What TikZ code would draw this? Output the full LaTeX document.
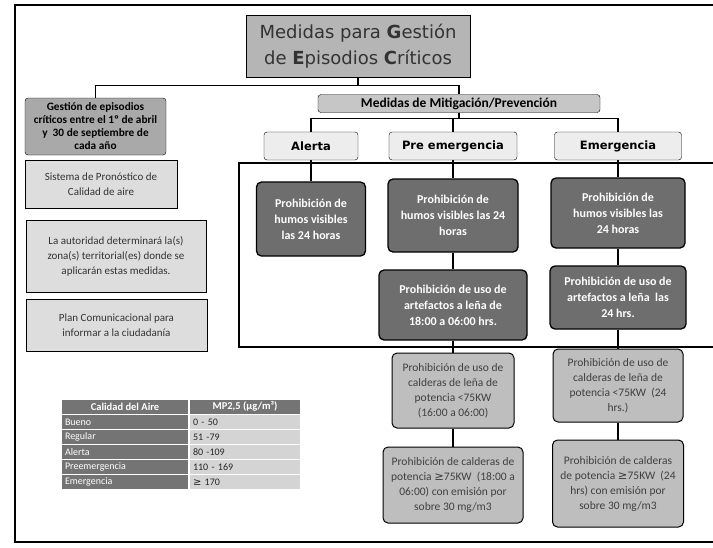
\documentclass[tikz,border=0pt]{standalone}
\usepackage{fontspec}
\setmainfont{Carlito}
\newfontfamily\titlefont{DejaVu Sans}
\newfontfamily\symfont{DejaVu Sans}
\usepackage{tikz}
\usepackage{xcolor}

\definecolor{titleGray}{HTML}{B5B5B5}
\definecolor{gestGray}{HTML}{A9A9A9}
\definecolor{mitigGray}{HTML}{C6C6C6}
\definecolor{levelGray}{HTML}{EDEDED}
\definecolor{prohibDark}{HTML}{6E6E6E}
\definecolor{prohibLight}{HTML}{BEBEBE}
\definecolor{sideGray}{HTML}{DDDDDD}
\definecolor{tabDark}{HTML}{747474}
\definecolor{tabLight}{HTML}{D4D4D4}

\newcommand{\gesym}{{\symfont\char"2265}}

\begin{document}
\begin{tikzpicture}[x=1pt, y=-1pt,
  titlebox/.style={draw, fill=titleGray, minimum width=224, minimum height=62, align=center,
    text=black!80, font=\titlefont\fontsize{18}{26}\selectfont},
  headbox/.style={draw, rounded corners=3, fill=mitigGray, align=center, inner sep=1,
    font=\bfseries\fontsize{13.5}{15}\selectfont},
  levelbox/.style={draw, rounded corners=3, fill=levelGray, minimum height=28,
    font=\titlefont\bfseries\fontsize{11.5}{13}\selectfont},
  darkbox/.style={draw, line width=1.3pt, rounded corners=5, fill=prohibDark, text=white,
    align=center, font=\bfseries\fontsize{12}{16}\selectfont},
  lightbox/.style={draw, line width=1pt, rounded corners=5, fill=prohibLight, text=black!75,
    align=center, inner sep=2, font=\fontsize{11.5}{15}\selectfont},
  sidebox/.style={draw, fill=sideGray, align=center, text=black!80,
    font=\fontsize{11}{15}\selectfont},
  tabhead/.style={fill=tabDark, text=white, minimum height=14, inner sep=0,
    font=\bfseries\fontsize{10.5}{12}\selectfont},
  tabkey/.style={fill=tabDark, text=white, minimum height=14, text width=120, align=left,
    inner xsep=3, inner ysep=0, font=\fontsize{10}{12}\selectfont},
  tabval/.style={fill=tabLight, text=black!85, minimum height=14, text width=104, align=left,
    inner xsep=3, inner ysep=0, font=\fontsize{10}{12}\selectfont},
  link/.style={line width=1.2pt},
  frameline/.style={line width=1.6pt}]
  \useasboundingbox (0,0) rectangle (713,547);
  \fill[white] (0,0) rectangle (713,547);
  % frames
  \draw[frameline] (720,5) -| (15,542) -- (720,542);
  \draw[frameline] (720,163) -| (239,347) -- (720,347);

  % title and first level
  \node[titlebox] (title) at (358,46)
    {Medidas para \textbf{G}estión\\de \textbf{E}pisodios \textbf{C}ríticos};
  \node[headbox, fill=gestGray, minimum width=141, minimum height=57,
    font=\bfseries\fontsize{11.3}{13}\selectfont] (gestion) at (95.5,126.5)
    {Gestión de episodios\\críticos entre el 1º de abril\\y\ \ 30 de septiembre de\\cada año};
  \node[headbox, minimum width=282, minimum height=18] (mitig) at (459,103.5)
    {Medidas de Mitigación/Prevención};

  % levels
  \node[levelbox, minimum width=94] (alerta) at (311,146) {Alerta};
  \node[levelbox, minimum width=128] (preemer) at (453,146) {Pre emergencia};
  \node[levelbox, minimum width=127] (emer) at (618,146) {Emergencia};

  % left column
  \node[sidebox, minimum width=152, minimum height=48] (sistema) at (101,184)
    {Sistema de Pronóstico de\\Calidad de aire};
  \node[sidebox, minimum width=180, minimum height=72] (autoridad) at (116,256)
    {La autoridad determinará la(s)\\zona(s) territorial(es) donde se\\aplicarán estas medidas.};
  \node[sidebox, minimum width=181, minimum height=52] (plan) at (116.5,325)
    {Plan Comunicacional para\\informar a la ciudadanía};

  % prohibitions
  \node[darkbox, minimum width=109, minimum height=74] (alerta1) at (311,219)
    {Prohibición de\\humos visibles\\las 24 horas};
  \node[darkbox, minimum width=130, minimum height=73] (pre1) at (453,215.5)
    {Prohibición de\\humos visibles las 24\\horas};
  \node[darkbox, minimum width=134, minimum height=70] (emer1) at (618,213)
    {Prohibición de\\humos visibles las\\24 horas};
  \node[darkbox, minimum width=148, minimum height=70] (pre2) at (453,305)
    {Prohibición de uso de\\artefactos a leña de\\18:00 a 06:00 hrs.};
  \node[darkbox, minimum width=136, minimum height=63] (emer2) at (618,297.5)
    {Prohibición de uso de\\artefactos a leña\ \ las\\24 hrs.};
  \node[lightbox, minimum width=122, minimum height=75] (pre3) at (453,390.5)
    {Prohibición de uso de\\calderas de leña de\\potencia <75KW\\(16:00 a 06:00)};
  \node[lightbox, minimum width=130, minimum height=73] (emer3) at (618,385.5)
    {Prohibición de uso de\\calderas de leña de\\potencia <75KW\ \ (24\\hrs.)};
  \node[lightbox, minimum width=140, minimum height=76] (pre4) at (453,485)
    {Prohibición de calderas de\\potencia \gesym75KW\ \ (18:00 a\\06:00) con emisión por\\sobre 30 mg/m3};
  \node[lightbox, minimum width=131, minimum height=87] (emer4) at (618,483.5)
    {Prohibición de calderas\\de potencia \gesym75KW\ \ (24\\hrs) con emisión por\\sobre 30 mg/m3};

  % connectors
  \draw[link] (title.south) -- ++(0,8) -| (gestion.north);
  \draw[link] (title.south) -- ++(0,8) -| (mitig.north);
  \foreach \lvl in {alerta,preemer,emer}
    \draw[link] (mitig.south) -- ++(0,6) -| (\lvl.north);
  \foreach \a/\b in {alerta/alerta1, preemer/pre1, pre1/pre2, pre2/pre3, pre3/pre4,
      emer/emer1, emer1/emer2, emer2/emer3, emer3/emer4}
    \draw[link] (\a) -- (\b);

  % air quality table
  \node[tabhead, minimum width=126] (calhead) at (125,406.5) {Calidad del Aire};
  \node[tabhead, minimum width=110] (mphead) at (245,406.5) {MP2,5 (µg/m³)};
  \foreach \lab/\val [count=\i] in {Bueno/0 - 50, Regular/51 -79, Alerta/80 -109,
      Preemergencia/110 - 169, Emergencia/{\gesym\ 170}}
  {
    \node[tabkey] (key\i) at (125,{407+15*\i}) {\lab};
    \node[tabval] (val\i) at (245,{407+15*\i}) {\val};
  }
\end{tikzpicture}
\end{document}
